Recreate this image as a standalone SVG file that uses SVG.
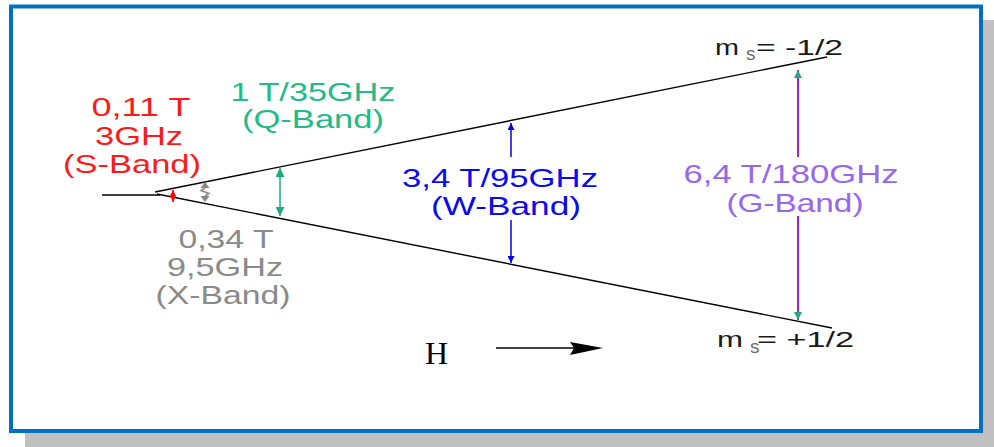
<svg xmlns="http://www.w3.org/2000/svg" width="994" height="447" viewBox="0 0 994 447">
<style>
.lbl{font-family:"Liberation Sans",Arial,sans-serif;font-size:25px;text-anchor:middle}
.ms{font-family:"Liberation Sans",Arial,sans-serif;font-size:22px;fill:#1a1a1a}
.sub{font-family:"Liberation Sans",Arial,sans-serif;font-size:19px;fill:#6a6a6a}
.lvl{stroke:#000;stroke-width:1.4;fill:none}
</style>
<defs>
<marker id="hg" viewBox="0 0 10 10" refX="10" refY="5" markerUnits="userSpaceOnUse" markerWidth="9" markerHeight="9" orient="auto-start-reverse"><path d="M0,0 L10,5 L0,10 z" fill="#1faa7a"/></marker>
<marker id="hp" viewBox="0 0 10 10" refX="10" refY="5" markerUnits="userSpaceOnUse" markerWidth="8" markerHeight="12" orient="auto-start-reverse"><path d="M0,0 L10,5 L0,10 z" fill="#1faa7a"/></marker>
<marker id="hb" viewBox="0 0 10 10" refX="10" refY="5" markerUnits="userSpaceOnUse" markerWidth="8" markerHeight="7" orient="auto-start-reverse"><path d="M0,0 L10,5 L0,10 z" fill="#0000ee"/></marker>
<marker id="hr" viewBox="0 0 10 10" refX="10" refY="5" markerUnits="userSpaceOnUse" markerWidth="6" markerHeight="9" orient="auto-start-reverse"><path d="M0,0 L10,5 L0,10 z" fill="#ff0000"/></marker>
</defs>
<rect x="0" y="0" width="994" height="447" fill="#fff"/>
<rect x="25" y="20" width="969" height="427" fill="#c0c0c0"/>
<rect x="11" y="6.5" width="970" height="424.5" fill="#fff" stroke="#0070c6" stroke-width="4"/>
<g id="connectors">
<path class="lvl" d="M102,195 L160,195"/>
<path class="lvl" d="M155,192 L827,57"/>
<path class="lvl" d="M157,194 L832,328"/>
<line x1="173" y1="190" x2="173" y2="202" stroke="#ff0000" stroke-width="1.5" marker-start="url(#hr)" marker-end="url(#hr)"/>
<path d="M205,188 L201,190.5 L209,193.5 L205,196" stroke="#888" stroke-width="1.5" fill="none"/>
<path d="M205,182 L209.5,188 L200.5,188 z M205,202 L209.5,196 L200.5,196 z" fill="#888"/>
<line x1="280" y1="168" x2="280" y2="216" stroke="#1faa7a" stroke-width="1.5" marker-start="url(#hg)" marker-end="url(#hg)"/>
<line x1="511" y1="157" x2="511" y2="123" stroke="#0000ee" stroke-width="1.5" marker-end="url(#hb)"/>
<line x1="511" y1="220" x2="511" y2="263" stroke="#0000ee" stroke-width="1.5" marker-end="url(#hb)"/>
<line x1="798" y1="157" x2="798" y2="70" stroke="#a000e0" stroke-width="1.8" marker-end="url(#hp)"/>
<line x1="798" y1="216" x2="798" y2="320" stroke="#a000e0" stroke-width="1.8" marker-end="url(#hp)"/>
<path d="M496,348 L575,348" stroke="#000" stroke-width="1.4"/>
<path d="M603,348 L570,342 L574,348 L570,355 z" fill="#000"/>
</g>
<g id="s-band" fill="#ff1a1a">
<text class="lbl" x="141" y="116" textLength="99" lengthAdjust="spacingAndGlyphs">0,11 T</text>
<text class="lbl" x="139" y="145" textLength="88" lengthAdjust="spacingAndGlyphs">3GHz</text>
<text class="lbl" x="132" y="173" textLength="138" lengthAdjust="spacingAndGlyphs">(S-Band)</text>
</g>
<g id="x-band" fill="#8a8a8a">
<text class="lbl" x="226" y="248" textLength="95" lengthAdjust="spacingAndGlyphs">0,34 T</text>
<text class="lbl" x="225" y="276" textLength="116" lengthAdjust="spacingAndGlyphs">9,5GHz</text>
<text class="lbl" x="223" y="304" textLength="135" lengthAdjust="spacingAndGlyphs">(X-Band)</text>
</g>
<g id="q-band" fill="#22bb88">
<text class="lbl" x="313" y="101" textLength="165" lengthAdjust="spacingAndGlyphs">1 T/35GHz</text>
<text class="lbl" x="313" y="128" textLength="142" lengthAdjust="spacingAndGlyphs">(Q-Band)</text>
</g>
<g id="w-band" fill="#0a0aee">
<text class="lbl" x="500" y="187" textLength="196" lengthAdjust="spacingAndGlyphs">3,4 T/95GHz</text>
<text class="lbl" x="506" y="215" textLength="150" lengthAdjust="spacingAndGlyphs">(W-Band)</text>
</g>
<g id="g-band" fill="#9966ee">
<text class="lbl" x="791" y="183" textLength="215" lengthAdjust="spacingAndGlyphs">6,4 T/180GHz</text>
<text class="lbl" x="795" y="212" textLength="137" lengthAdjust="spacingAndGlyphs">(G-Band)</text>
</g>
<g id="ms-minus">
<text class="ms" x="715" y="55" textLength="24" lengthAdjust="spacingAndGlyphs">m</text>
<text class="sub" x="746" y="60">s</text>
<text class="ms" x="756" y="55" textLength="87" lengthAdjust="spacingAndGlyphs">= -1/2</text>
</g>
<g id="ms-plus">
<text class="ms" x="717" y="347" textLength="26" lengthAdjust="spacingAndGlyphs">m</text>
<text class="sub" x="750" y="353">s</text>
<text class="ms" x="757" y="347" textLength="97" lengthAdjust="spacingAndGlyphs">= +1/2</text>
</g>
<g id="field">
<text x="425" y="364" font-family="'Liberation Serif','Times New Roman',serif" font-size="32" fill="#000">H</text>
</g>
</svg>
